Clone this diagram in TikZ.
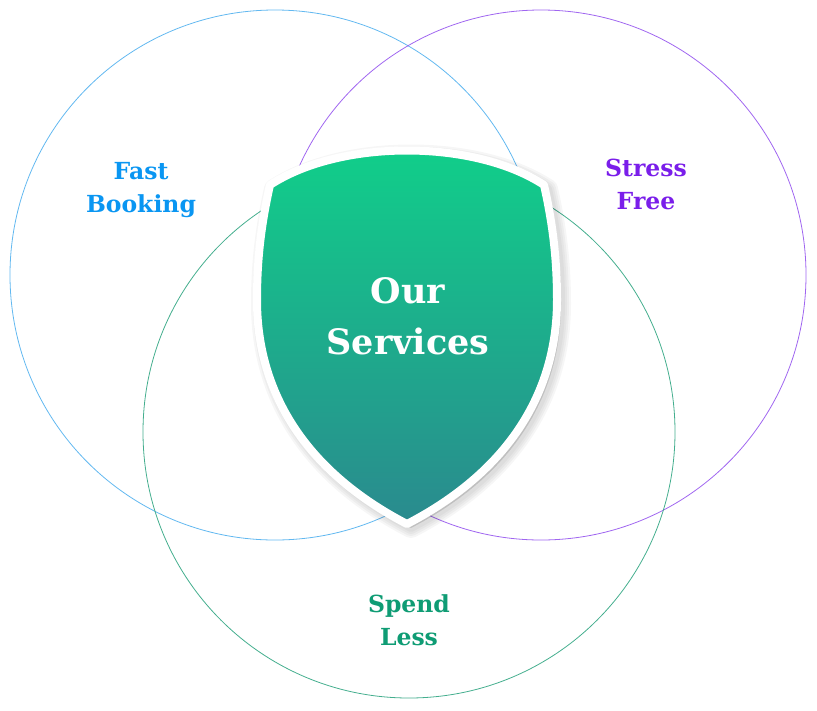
\documentclass[tikz,border=0pt]{standalone}
\usepackage{fontspec}
\setmainfont{DejaVu Serif}
\usepackage{xcolor}
\usepackage{tikz}
\usetikzlibrary{positioning}
\definecolor{bookblue}{HTML}{0A96F2}
\definecolor{stresspurple}{HTML}{7A1EEA}
\definecolor{spendgreen}{HTML}{0F9C74}
\definecolor{ringblue}{HTML}{62B8F0}
\definecolor{ringpurple}{HTML}{A066F0}
\definecolor{ringgreen}{HTML}{44AE8E}
\definecolor{shieldtop}{HTML}{10D08A}
\definecolor{shieldbottom}{HTML}{2A8A8E}

\newcommand{\shieldpath}{(270,185) .. controls (340,139) and (474,139) .. (544,185)
    .. controls (553,225) and (557,260) .. (557,300)
    .. controls (557,390) and (511,470) .. (407,524)
    .. controls (303,470) and (257,390) .. (257,300)
    .. controls (257,260) and (261,225) .. (270,185) -- cycle}

\tikzset{
  ring/.style={line width=0.8pt},
  label/.style={align=center, font=\bfseries\fontsize{23.5}{33}\selectfont},
  softshade/.style={fill=black, draw=black, opacity=0.035, line join=round, line width=#1},
}

\begin{document}
\begin{tikzpicture}[x=1pt, y=-1pt]
  \useasboundingbox (0,0) rectangle (817,710);
  % the three rings
  \draw[ring, ringblue]   (275,275) circle[radius=265];
  \draw[ring, ringpurple] (541,275) circle[radius=265];
  \draw[ring, ringgreen]  (409,432) circle[radius=266];
  % soft shadow under the shield
  \foreach \w in {8,12,16,20}
    \path[softshade=\w pt, shift={(4,4)}] \shieldpath;
  % shield in the middle
  \path[draw=white, line width=8pt, line join=round,
        top color=shieldtop, bottom color=shieldbottom] \shieldpath;
  \node[align=center, text=white, font=\bfseries\fontsize{35}{51}\selectfont] (core) at (408,316) {Our\\Services};
  % labels
  \node[label, text=bookblue]     (fast)   at (141,190) {Fast\\Booking};
  \node[label, text=stresspurple] (stress) at (646,184) {Stress\\Free};
  \node[label, text=spendgreen]   (spend)  at (409,620) {Spend\\Less};
\end{tikzpicture}
\end{document}
